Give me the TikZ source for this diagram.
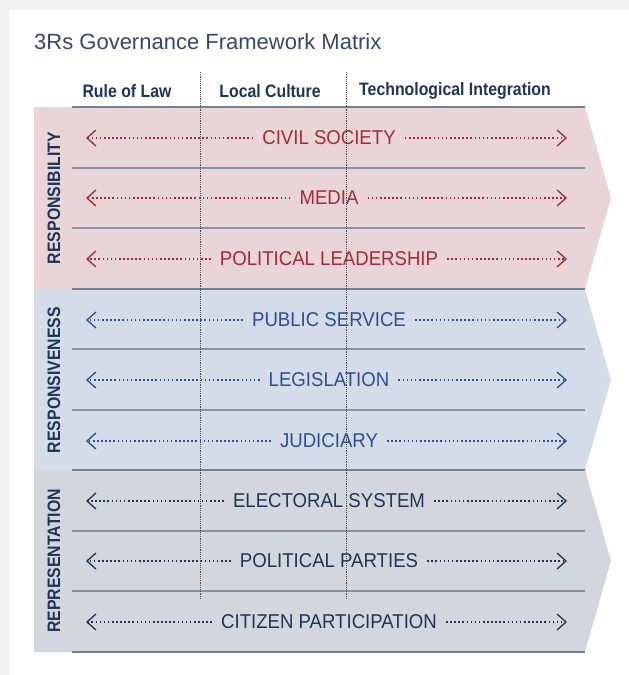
\documentclass[tikz,border=0pt]{standalone}
\usepackage{fontspec}
\setmainfont{Liberation Sans}
\newfontfamily\narrowfont[FakeStretch=0.88]{Liberation Sans}
\newfontfamily\rowfont[FakeStretch=0.93]{Liberation Sans}
\usetikzlibrary{arrows.meta, positioning}

\definecolor{respfill}{HTML}{E9D5D7}
\definecolor{respvfill}{HTML}{D3DCE8}
\definecolor{reprfill}{HTML}{D3D7DD}
\definecolor{resptext}{HTML}{A32A36}
\definecolor{respvtext}{HTML}{2B4F90}
\definecolor{navy}{HTML}{1E3557}
\definecolor{linegray}{HTML}{8593A3}
\definecolor{edgegray}{HTML}{72808F}

\begin{document}
\begin{tikzpicture}[x=1pt, y=-1pt,
    rowline/.style={draw=linegray, line width=1.2pt},
    edgeline/.style={draw=edgegray, line width=2.4pt},
    coldash/.style={draw=black!70, line width=0.7pt, dash pattern=on 1.2pt off 1pt},
    flow/.style={line width=1.6pt, dash pattern=on 1.6pt off 2.5pt,
        -{Straight Barb[length=9pt, width=16pt, line width=1.3pt]}},
    rowlabel/.style={font=\rowfont\fontsize{20}{24}\selectfont, inner xsep=9pt, inner ysep=0pt},
    header/.style={font=\narrowfont\bfseries\fontsize{18}{22}\selectfont, text=navy, inner sep=0pt},
    bandlabel/.style={font=\narrowfont\bfseries\fontsize{18}{21}\selectfont, text=navy, rotate=90, inner sep=0pt}]
    \useasboundingbox (0,0) rectangle (629,675);

    % Card
    \fill[black!5] (0,0) rectangle (629,675);
    \fill[white] (9,10) rectangle (629,675);
    \node[anchor=base west, inner sep=0pt, text=navy!90, font=\fontsize{22}{26}\selectfont]
        (title) at (34,49) {3Rs Governance Framework Matrix};

    % Column headers
    \node[header] (hlaw) at (127,91) {Rule of Law};
    \node[header] (hculture) at (270,91) {Local Culture};
    \node[header] (htech) at (455,91) {Technological Integration};

    % Bands
    \foreach \fillcol/\top/\mid/\bot in {respfill/107/198/289, respvfill/289/380/470, reprfill/470/561/652}
        \fill[\fillcol] (34,\top) -- (585,\top) -- (611,\mid) -- (585,\bot) -- (34,\bot) -- cycle;

    % Row lines
    \foreach \y in {168,228,349,410,531,591}
        \draw[rowline] (72,\y) -- (585,\y);
    \foreach \y in {107,289,470,652}
        \draw[edgeline] (72,\y) -- (585,\y);

    % Band labels
    \node[bandlabel] (lresp) at (54,198) {RESPONSIBILITY};
    \node[bandlabel] (lrespv) at (54,380) {RESPONSIVENESS};
    \node[bandlabel] (lrepr) at (54,561) {REPRESENTATION};

    % Rows
    \foreach \name/\y/\col/\txt in {
        civil/138/resptext/CIVIL SOCIETY,
        media/198/resptext/MEDIA,
        leader/259/resptext/POLITICAL LEADERSHIP,
        service/320/respvtext/PUBLIC SERVICE,
        legis/380/respvtext/LEGISLATION,
        judic/441/respvtext/JUDICIARY,
        elect/501/navy/ELECTORAL SYSTEM,
        parties/561/navy/POLITICAL PARTIES,
        citizen/622/navy/CITIZEN PARTICIPATION}
    {
        \node[rowlabel, text=\col] (\name) at (329,\y) {\txt};
        \coordinate (\name-l) at (86,\y);
        \coordinate (\name-r) at (567,\y);
        \draw[flow, draw=\col] (\name.west) -- (\name-l);
        \draw[flow, draw=\col] (\name.east) -- (\name-r);
    }

    % Column separators
    \draw[coldash] (200,72) -- (200,600);
    \draw[coldash] (346,72) -- (346,600);
\end{tikzpicture}
\end{document}
